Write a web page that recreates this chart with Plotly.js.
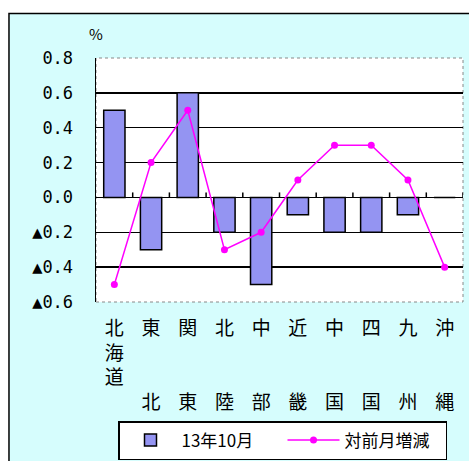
<!DOCTYPE html>
<html>
<head>
<meta charset="utf-8">
<script src="https://cdn.plot.ly/plotly-3.0.1.min.js"></script>
<style>
  html, body { margin: 0; padding: 0; background: #fff; }
  #chart { width: 469px; height: 461px; }
</style>
</head>
<body>
<div id="chart"></div>
<script>
// Regions (left to right)
const regions = ['北海道', '東北', '関東', '北陸', '中部', '近畿', '中国', '四国', '九州', '沖縄'];
// Index level, Oct 2013 (%)
const octValues = [0.5, -0.3, 0.6, -0.2, -0.5, -0.1, -0.2, -0.2, -0.1, 0.0];
// Change from previous month (points)
const momChange = [-0.5, 0.2, 0.5, -0.3, -0.2, 0.1, 0.3, 0.3, 0.1, -0.4];
// Y tick values and labels (negatives shown with ▲)
const yTicks = [-0.6, -0.4, -0.2, 0.0, 0.2, 0.4, 0.6, 0.8];
const yTickText = ['▲0.6', '▲0.4', '▲0.2', '0.0', '0.2', '0.4', '0.6', '0.8'];
const seriesNames = ['13年10月', '対前月増減'];

// Vertical (stacked) category labels
const stackedLabels = regions.map(r => {
  const chars = Array.from(r);
  return chars.length === 2 ? chars[0] + '<br><br><br>' + chars[1] : chars.join('<br>');
});

const cjk = '"Noto Sans CJK JP", "Noto Sans CJK SC", sans-serif';

const traces = [
  {
    type: 'bar',
    name: seriesNames[0],
    x: regions,
    y: octValues,
    marker: { color: '#9494F2', line: { color: '#000', width: 1.5 } },
    hoverinfo: 'x+y'
  },
  {
    type: 'scatter',
    mode: 'lines+markers',
    name: seriesNames[1],
    x: regions,
    y: momChange,
    line: { color: '#FF00FF', width: 1.5 },
    marker: { color: '#FF00FF', size: 7, symbol: 'circle' }
  }
];

// small upward tick marks on the zero line at each category boundary
const boundaryTicks = regions.map((_, i) => ({
  type: 'line',
  xref: 'x', yref: 'y',
  ysizemode: 'pixel', yanchor: 0,
  x0: i + 0.5, x1: i + 0.5,
  y0: 0, y1: 5,
  line: { color: '#000', width: 1.5 },
  layer: 'above'
}));

const layout = {
  width: 469,
  height: 461,
  margin: { l: 96, r: 6, t: 58, b: 159, pad: 0 },
  paper_bgcolor: '#fff',
  plot_bgcolor: 'rgba(0,0,0,0)',
  bargap: 0.42,
  showlegend: true,
  font: { family: cjk, color: '#000' },
  xaxis: {
    type: 'category',
    range: [-0.5, regions.length - 0.5],
    tickvals: regions,
    ticktext: stackedLabels,
    ticks: '',
    showgrid: false,
    showline: false,
    zeroline: false,
    ticklabelstandoff: 13,
    tickfont: { family: cjk, size: 19, color: '#000' },
    automargin: false,
    fixedrange: true
  },
  yaxis: {
    range: [-0.6, 0.8],
    tickmode: 'array',
    tickvals: yTicks,
    ticktext: yTickText,
    ticks: '',
    showgrid: false,
    minor: {
      tickmode: 'array',
      tickvals: [-0.4, -0.2, 0.2, 0.4, 0.6],
      showgrid: true,
      gridcolor: '#000',
      gridwidth: 1.3,
      ticks: ''
    },
    zeroline: true,
    zerolinecolor: '#000',
    zerolinewidth: 1.5,
    showline: true,
    linecolor: '#000',
    linewidth: 1.5,
    ticklabelstandoff: 18,
    tickfont: { family: '"DejaVu Sans Mono", monospace', size: 17, color: '#000' },
    automargin: false,
    fixedrange: true
  },
  legend: {
    orientation: 'h',
    xref: 'container',
    yref: 'container',
    x: 118 / 469,
    xanchor: 'left',
    y: 1 - 460 / 461,
    yanchor: 'bottom',
    bgcolor: '#fff',
    bordercolor: '#000',
    borderwidth: 1.5,
    font: { family: cjk, size: 17, color: '#000' },
    entrywidth: 96,
    entrywidthmode: 'pixels',
    itemwidth: 52,
    tracegroupgap: 0,
    traceorder: 'normal'
  },
  annotations: [
    {
      text: '%',
      xref: 'paper', yref: 'paper',
      x: 0, y: 1,
      xanchor: 'center', yanchor: 'bottom',
      yshift: 12,
      showarrow: false,
      font: { family: cjk, size: 15, color: '#000' }
    }
  ],
  shapes: [
    // chart area background
    {
      type: 'rect', xref: 'paper', yref: 'paper', layer: 'below',
      x0: -0.2371, x1: 1.04, y0: -0.70, y1: 1.182,
      fillcolor: '#D6FDFD',
      line: { color: '#000', width: 1.5 }
    },
    // plot area
    {
      type: 'rect', xref: 'paper', yref: 'paper', layer: 'below',
      x0: 0, x1: 1, y0: 0, y1: 1,
      fillcolor: '#fff',
      line: { color: '#888', width: 1, dash: 'dot' }
    },
    ...boundaryTicks
  ]
};

Plotly.newPlot('chart', traces, layout, { displayModeBar: false, staticPlot: true });
</script>
</body>
</html>
